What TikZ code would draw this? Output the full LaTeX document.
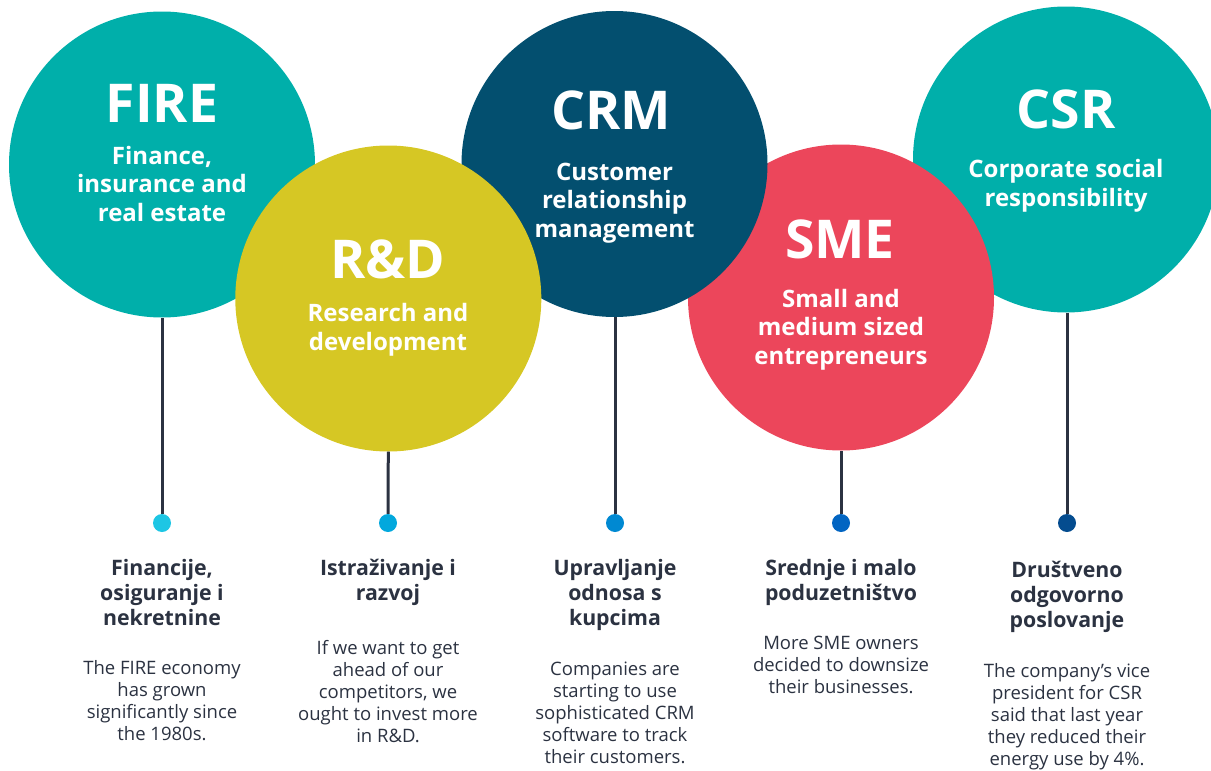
\documentclass[tikz,border=0pt]{standalone}
\usepackage{fontspec}
\setmainfont{Open Sans}
\definecolor{teal}{RGB}{0,175,170}
\definecolor{mustard}{RGB}{214,199,36}
\definecolor{navy}{RGB}{3,79,111}
\definecolor{rose}{RGB}{236,70,91}
\definecolor{ink}{RGB}{43,50,65}
\definecolor{dotA}{RGB}{29,198,228}
\definecolor{dotB}{RGB}{2,168,221}
\definecolor{dotC}{RGB}{0,137,210}
\definecolor{dotD}{RGB}{2,101,194}
\definecolor{dotE}{RGB}{4,76,143}
\begin{document}
\begin{tikzpicture}[x=1pt,y=-1pt,
  bubble/.style={circle,minimum size=306pt,inner sep=0pt,draw=none},
  ttl/.style={text=white,font=\bfseries\fontsize{53.5}{58}\selectfont,anchor=base,inner sep=0pt},
  sub/.style={text=white,font=\bfseries\fontsize{24}{28.5}\selectfont,align=center,anchor=base,inner sep=0pt},
  head/.style={text=ink,font=\bfseries\fontsize{21.3}{25}\selectfont,align=center,anchor=base,inner sep=0pt},
  body/.style={text=ink,font=\fontsize{18.5}{22}\selectfont,align=center,anchor=base,inner sep=0pt},
  dot/.style={circle,minimum size=18pt,inner sep=0pt},
  stem/.style={draw=ink,line width=3pt}]
\useasboundingbox (0,0) rectangle (1211,771);

% circles and their texts (stacking order); multi-line nodes are placed by the baseline of their last line
\node[bubble,fill=teal] (cFIRE) at (162,164.5) {};
\node[ttl] (tFIRE) at (162,122) {FIRE};
\node[sub] (sFIRE) at (162,221) {Finance,\\insurance and\\real estate};

\node[bubble,fill=teal] (cCSR) at (1066,159.5) {};
\node[ttl] (tCSR) at (1066,128) {CSR};
\node[sub] (sCSR) at (1066,206) {Corporate social\\responsibility};

\node[bubble,fill=rose] (cSME) at (841,297.5) {};
\node[ttl] (tSME) at (840,258) {SME};
\node[sub] (sSME) at (841,364) {Small and\\medium sized\\entrepreneurs};

\node[bubble,fill=navy] (cCRM) at (614.5,164) {};
\node[ttl] (tCRM) at (611,129) {CRM};
\node[sub] (sCRM) at (614.5,237) {Customer\\relationship\\management};

\node[bubble,fill=mustard] (cRD) at (388.3,298.5) {};
\node[ttl] (tRD) at (388,278) {R\&D};
\node[sub] (sRD) at (388,350) {Research and\\development};

% dots
\node[dot,fill=dotA] (dFIRE) at (162,523) {};
\node[dot,fill=dotB] (dRD) at (388,523) {};
\node[dot,fill=dotC] (dCRM) at (615,523) {};
\node[dot,fill=dotD] (dSME) at (841,523) {};
\node[dot,fill=dotE] (dCSR) at (1067,523) {};

% stems
\draw[stem] (cFIRE.south) -- (dFIRE.north);
\draw[stem] (cRD.south) -- (dRD.north);
\draw[stem] (cCRM.south -| dCRM.north) -- (dCRM.north);
\draw[stem] (cSME.south) -- (dSME.north);
\draw[stem] (cCSR.south -| dCSR.north) -- (dCSR.north);

% lower texts
\node[head] (hFIRE) at (162,625) {Financije,\\osiguranje i\\nekretnine};
\node[body] (bFIRE) at (162,740) {The FIRE economy\\has grown\\significantly since\\the 1980s.};

\node[head] (hRD) at (388,600) {Istraživanje i\\razvoj};
\node[body] (bRD) at (388,742) {If we want to get\\ahead of our\\competitors, we\\ought to invest more\\in R\&D.};

\node[head] (hCRM) at (615,625) {Upravljanje\\odnosa s\\kupcima};
\node[body] (bCRM) at (615,763) {Companies are\\starting to use\\sophisticated CRM\\software to track\\their customers.};

\node[head] (hSME) at (841,600) {Srednje i malo\\poduzetništvo};
\node[body] (bSME) at (841,693) {More SME owners\\decided to downsize\\their businesses.};

\node[head] (hCSR) at (1067,627) {Društveno\\odgovorno\\poslovanje};
\node[body] (bCSR) at (1067,765) {The company’s vice\\president for CSR\\said that last year\\they reduced their\\energy use by 4\%.};
\end{tikzpicture}
\end{document}
